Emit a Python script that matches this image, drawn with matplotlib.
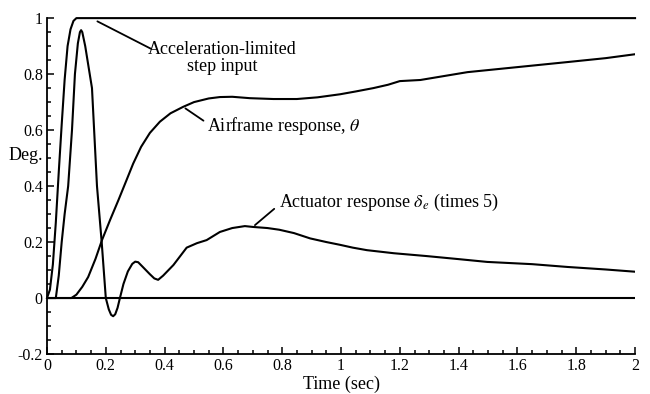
import matplotlib
matplotlib.use("Agg")
import matplotlib.pyplot as plt
from matplotlib.ticker import MultipleLocator, FuncFormatter

plt.rcParams['font.family'] = ['Liberation Serif', 'DejaVu Serif']
plt.rcParams['mathtext.fontset'] = 'stix'

# Acceleration-limited step input
t_step = [0.0, 0.01, 0.02, 0.03, 0.04, 0.05, 0.06, 0.07, 0.08, 0.09, 0.1, 2.0]
v_step = [0.0, 0.03, 0.12, 0.27, 0.45, 0.62, 0.78, 0.9, 0.96, 0.99, 1.0, 1.0]

# Actuator response (times 5)
t_act = [0.0, 0.03, 0.04, 0.05, 0.06, 0.072, 0.085, 0.095, 0.105, 0.112, 0.116, 0.12, 0.13,
         0.153, 0.17, 0.186, 0.2, 0.21, 0.218, 0.225, 0.232, 0.24, 0.248, 0.26, 0.275,
         0.29, 0.3, 0.31, 0.325, 0.35, 0.365, 0.378, 0.395, 0.43, 0.475, 0.51, 0.543,
         0.588, 0.63, 0.673, 0.70, 0.75, 0.79, 0.84, 0.895, 0.95, 0.997, 1.04, 1.088,
         1.18, 1.29, 1.4, 1.497, 1.65, 1.77, 1.9, 2.0]
v_act = [0.0, 0.0, 0.08, 0.2, 0.3, 0.4, 0.6, 0.8, 0.91, 0.95, 0.957, 0.95, 0.9,
         0.75, 0.4, 0.2, 0.0, -0.04, -0.06, -0.065, -0.058, -0.035, 0.0, 0.05, 0.095,
         0.122, 0.13, 0.128, 0.112, 0.085, 0.07, 0.065, 0.08, 0.118, 0.18, 0.196, 0.207,
         0.236, 0.25, 0.257, 0.254, 0.25, 0.244, 0.232, 0.213, 0.2, 0.19, 0.18, 0.171,
         0.16, 0.15, 0.139, 0.129, 0.121, 0.111, 0.102, 0.094]

# Airframe response theta
t_air = [0.0, 0.083, 0.1, 0.12, 0.14, 0.165, 0.187, 0.215, 0.243, 0.27, 0.293, 0.32,
         0.35, 0.384, 0.42, 0.463, 0.5, 0.55, 0.588, 0.63, 0.69, 0.77, 0.85, 0.92,
         0.997, 1.05, 1.11, 1.16, 1.2, 1.27, 1.35, 1.43, 1.6, 1.77, 1.9, 2.0]
v_air = [0.0, 0.0, 0.012, 0.04, 0.075, 0.14, 0.207, 0.28, 0.35, 0.42, 0.48, 0.54,
         0.59, 0.63, 0.66, 0.683, 0.7, 0.713, 0.718, 0.719, 0.714, 0.711, 0.711, 0.717,
         0.728, 0.738, 0.75, 0.762, 0.775, 0.779, 0.793, 0.807, 0.825, 0.843, 0.857, 0.871]

x_ticks = [0, 0.2, 0.4, 0.6, 0.8, 1, 1.2, 1.4, 1.6, 1.8, 2]
y_ticks = [-0.2, 0, 0.2, 0.4, 0.6, 0.8, 1]

fig = plt.figure(figsize=(6.5, 3.94), dpi=100)
ax = fig.add_axes([0.0723, 0.1015, 0.9047, 0.8525])

lw = 1.5
ax.plot([0, 2], [0, 0], color='black', lw=lw)
ax.plot(t_step, v_step, color='black', lw=lw, clip_on=False)
ax.plot(t_act, v_act, color='black', lw=lw)
ax.plot(t_air, v_air, color='black', lw=lw)

ax.set_xlim(0, 2)
ax.set_ylim(-0.2, 1)
ax.spines['top'].set_visible(False)
ax.spines['right'].set_visible(False)
ax.spines['left'].set_linewidth(1.3)
ax.spines['bottom'].set_linewidth(1.3)
ax.set_xticks(x_ticks)
ax.set_yticks(y_ticks)
fmt = FuncFormatter(lambda v, p: ('%g' % round(v, 2)))
ax.xaxis.set_major_formatter(fmt)
ax.yaxis.set_major_formatter(fmt)
ax.xaxis.set_minor_locator(MultipleLocator(0.05))
ax.yaxis.set_minor_locator(MultipleLocator(0.05))
ax.tick_params(which='both', direction='in', width=1.1, labelsize=11.5, pad=3)
ax.tick_params(which='major', length=5)
ax.tick_params(which='minor', length=3)

ax.set_xlabel('Time (sec)', fontsize=13, labelpad=1)
fig.text(0.04, (394 - 155) / 394, 'Deg.', fontsize=13, ha='center', va='center')

fs = 13
ax.text(0.595, 0.858, 'Acceleration-limited\nstep input', fontsize=fs, ha='center',
        va='center', linespacing=0.95)
ax.annotate('', xy=(0.163, 0.993), xytext=(0.362, 0.886),
            arrowprops=dict(arrowstyle='-', color='black', lw=1.3))
ax.text(0.545, 0.615, r'Airframe response, $\mathit{\theta}$', fontsize=fs, ha='left', va='center')
ax.annotate('', xy=(0.463, 0.683), xytext=(0.54, 0.628),
            arrowprops=dict(arrowstyle='-', color='black', lw=1.3))
ax.text(0.79, 0.34, r'Actuator response $\delta_e$ (times 5)', fontsize=fs, ha='left', va='center')
ax.annotate('', xy=(0.70, 0.254), xytext=(0.78, 0.325),
            arrowprops=dict(arrowstyle='-', color='black', lw=1.3))

fig.savefig('out.png', dpi=100)
